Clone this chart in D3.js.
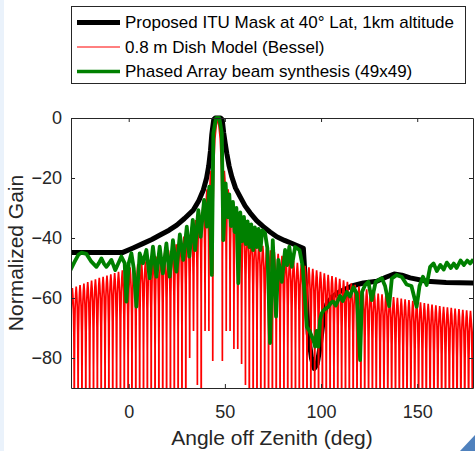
<!DOCTYPE html>
<html lang="en">
<head>
<meta charset="UTF-8">
<title>Normalized Gain vs Angle off Zenith</title>
<script src="https://d3js.org/d3.v7.min.js"></script>
<style>
    body { margin: 0; background: #fff; }
    svg { display: block; font-family: "Liberation Sans", Arial, Helvetica, sans-serif; }
    .axis text { fill: #262626; font-size: 18px; font-family: "Liberation Sans", Arial, Helvetica, sans-serif; }
    .axis path, .axis line { stroke: #262626; }
</style>
</head>
<body>
<div id="chart"></div>
<script>
    // tick values
    var xTicks = [0, 50, 100, 150];
    var yTicks = [-80, -60, -40, -20, 0];

    var legendLabels = [
        "Proposed ITU Mask at 40\u00B0 Lat, 1km altitude",
        "0.8 m Dish Model (Bessel)",
        "Phased Array beam synthesis (49x49)"
    ];

    // ITU mask, [deg, dB]
    var maskPoints = [[-30,-44.8],[-3,-44.8],[2,-43.4],[7.6,-41.8],[12,-40.5],[16.3,-39],[21,-37.4],[25,-35.7],
        [29,-33.5],[33.6,-30.7],[36.5,-27.5],[38.8,-24],[40.5,-20],[41.6,-16],[42.5,-11],[43.2,-5.5],[44.2,-0.5],
        [45,0],[47.8,0],[48.6,-0.5],[49.4,-5],[50.2,-8.5],[51,-11.8],[52.2,-16],[53.6,-19.6],[55.5,-23.3],
        [57.9,-26.2],[60.5,-29.3],[63.1,-31.6],[66.5,-34.2],[70,-36.2],[73.5,-38],[77,-39.6],[81,-40.8],
        [85.6,-42],[90.8,-43.4],[91.6,-52],[93.3,-71.7],[95,-80],[96.5,-83.5],[98,-82],[99.5,-76.2],[101.2,-67],
        [103,-62],[106,-59.5],[110,-57.8],[116,-56],[122,-55],[129,-54.4],[134,-53],[138,-52],[142,-52.4],
        [146.3,-53.3],[155,-54.4],[165,-54.8],[180,-55]];

    // dish model: null positions (deg) and the peak of each lobe between them (dB)
    var redNullDeg = [-30.3,-28.3,-26.3,-24.3,-22.3,-20.3,-18.3,-16.3,-14.3,-12.3,-10.3,-8.3,-6.3,-4.3,-2.3,-0.3,
        1.7,3.7,5.7,7.7,9.7,11.7,13.7,15.7,17.7,19.7,21.7,23.7,25.7,27.7,29.7,31.7,33.7,35.7,37.7,39.7,41.7,43.7,
        48.7,50.7,52.7,54.7,56.7,58.7,60.7,62.7,64.7,66.7,68.7,70.7,72.7,74.7,76.7,78.7,80.7,82.7,84.7,86.7,88.7,
        90.7,92.7,94.7,96.7,98.7,100.7,102.7,104.7,106.7,108.7,110.7,112.7,114.7,116.7,118.7,120.7,122.7,124.7,
        126.7,128.7,130.7,132.7,134.7,136.7,138.7,140.7,142.7,144.7,146.7,148.7,150.7,152.7,154.7,156.7,158.7,
        160.7,162.7,164.7,166.7,168.7,170.7,172.7,174.7,176.7,178.7,180.7];
    var redPeakDb = [-56.7,-56.2,-55.7,-55.2,-54.7,-54.2,-53.8,-53.3,-52.9,-52.5,-52.1,-51.7,-51.3,-50.8,-50.3,
        -49.8,-49.3,-48.8,-48.3,-47.8,-47.3,-46.8,-46.2,-45.6,-44.9,-44.1,-43.2,-42.1,-40.9,-39.5,-38.0,-36.3,
        -34.0,-31.4,-28.1,-23.8,-17.6,
        0,
        -17.6,-23.8,-28.1,-31.4,-34,-36.3,-38,-39.4,-40.6,-41.7,-42.6,-43.4,-44.1,-44.7,-45.3,-45.9,-46.5,-47.1,
        -47.7,-48.3,-48.8,-49.3,-49.8,-50.3,-50.8,-51.3,-51.8,-52.3,-52.7,-53.1,-53.6,-54.1,-54.6,-55.1,-55.6,
        -56.1,-56.6,-57.1,-57.6,-58.1,-58.5,-58.8,-59.1,-59.4,-59.7,-59.9,-60.2,-60.4,-60.7,-60.9,-61.2,-61.4,
        -61.7,-61.9,-62.2,-62.4,-62.7,-62.9,-63.1,-63.3,-63.5,-63.7,-63.9,-64.1,-64.3,-64.5];
    // nulls that stop inside the axes; all the others run below -90
    var redShallowNulls = [[31.7,-80],[33.7,-71],[35.7,-89],[39.7,-71],[41.7,-71],[43.7,-81],
        [48.7,-81],[50.7,-71],[52.7,-71],[54.7,-77],[56.7,-77],[58.7,-82],[60.7,-89]];
    // shape of one lobe: fraction across the lobe, dB below its peak
    var lobeShape = [[0.03,-30],[0.1,-16],[0.22,-7],[0.36,-2.5],[0.5,0],[0.64,-2.5],[0.78,-7],[0.9,-16],[0.97,-30]];

    // phased array, [deg, dB]
    var arrayPoints = [[-30.7,-51.2],[-28.1,-47.9],[-26.2,-45.6],[-24.6,-44.9],[-22,-45.3],[-19.4,-47.9],
        [-16.8,-49.6],[-15.5,-48.4],[-14.2,-46.8],[-12.8,-48.6],[-11.6,-49.6],[-10.3,-48.5],[-9,-47.3],[-7,-50.7],
        [-5.5,-48.6],[-3.8,-46.2],[-2.1,-48.4],[-1.2,-61.2],[0,-48.4],[1.4,-45.1],[2.6,-50],[4,-62.9],[5.7,-45.1],
        [7.4,-48.4],[9.2,-44],[10.9,-53.4],[12.6,-42.9],[14.4,-52.9],[16.1,-42.9],[17.8,-51.8],[19.6,-41.8],
        [21.3,-52.9],[23,-40.7],[24.8,-51.2],[26.6,-38.8],[28.4,-47.3],[30.2,-36.2],[31.5,-46.2],[33.3,-34],
        [34.5,-44],[36.2,-30.7],[37.4,-39.6],[39.2,-27.3],[40.6,-36.2],[41.9,-22.9],[43.2,-52.3],[44,-5.1],
        [45.4,0],[47.1,0],[48.4,-5.1],[49.2,-40.7],[50.4,-21.8],[51.3,-33],[52.3,-25.5],[53.2,-36],[54.2,-28],
        [55.1,-38],[56,-30],[57,-55.1],[58,-31.5],[59,-41],[59.9,-33],[60.9,-42],[61.8,-34.5],[62.8,-43],
        [63.7,-35.5],[64.7,-44],[65.6,-36.5],[66.6,-43],[67.5,-37],[68.5,-44],[69.4,-37.5],
        [70.9,-38.4],[72.1,-43.4],[73.5,-75],[74.9,-40.7],[76.6,-66.2],[77.8,-47.3],[79.6,-54.6],[81.3,-44],
        [82.4,-49],[83.5,-42.9],[84.8,-49.6],[86.5,-43],[88.8,-44],[90.5,-49.6],[91.7,-60.7],[92.6,-69.6],
        [94,-71],[96,-74],[96.9,-76.2],[97.7,-71],[98.6,-76.2],[99.5,-67.3],[100.3,-65.1],[101.5,-64],
        [103.8,-62.9],[105.3,-61.5],[106.4,-61.2],[107.6,-62.5],[109.9,-59.3],[111.3,-61],[113.4,-58],
        [115,-59.5],[116.8,-56.4],[118.6,-58.5],[120.3,-80.7],[121.3,-58],[122.9,-55.7],[124.6,-54.6],
        [126.4,-60.7],[128.4,-54.6],[131.6,-53.4],[133.3,-56],[135.4,-62.7],[136.8,-53.5],[139.4,-52.3],
        [142,-53],[144.5,-55.5],[147,-56],[149.7,-62.9],[151.2,-56],[153,-52.9],[154.9,-55.7],[156.7,-49.6],
        [158.5,-48.5],[160.2,-51],[162,-49],[163.8,-50.5],[165.4,-48.2],[167.5,-50],[169,-48.5],[170.5,-50],
        [172.5,-47.5],[174.3,-49],[176,-47.5],[177.5,-48.5],[179.2,-47.1]];

    var width = 475, height = 451;
    var plot = { left: 71, right: 473, top: 118, bottom: 388 };

    var svg = d3.select("#chart")
        .append("svg")
        .attr("width", width)
        .attr("height", height);

    // screenshot leftovers: pale strip on the left, blue corner
    svg.append("rect").attr("x", 0).attr("y", 0).attr("width", 4).attr("height", height).attr("fill", "#eaf2fb");
    svg.append("path").attr("d", "M460,451L475,435L475,451Z").attr("fill", "#4f81bd");

    var x = d3.scaleLinear().domain([-30, 179]).range([plot.left, plot.right]);
    var y = d3.scaleLinear().domain([-90, 0]).range([plot.bottom, plot.top]);

    svg.append("clipPath").attr("id", "clip")
        .append("rect")
        .attr("x", plot.left)
        .attr("y", plot.top - 4)
        .attr("width", plot.right - plot.left)
        .attr("height", plot.bottom - plot.top + 4);

    var line = d3.line()
        .x(d => x(d[0]))
        .y(d => y(d[1]));

    // build the dish pattern lobe by lobe
    function nullDepth(deg) {
        var s = redShallowNulls.find(n => Math.abs(n[0] - deg) < 0.01);
        return s ? s[1] : -140;
    }
    var redPoints = [];
    for (var i = 0; i < redPeakDb.length; i++) {
        var a = redNullDeg[i], b = redNullDeg[i + 1], pk = redPeakDb[i];
        if (i === 0) redPoints.push([a, nullDepth(a)]);
        lobeShape.forEach(function (s) {
            redPoints.push([a + s[0] * (b - a), pk + s[1]]);
        });
        redPoints.push([b, nullDepth(b)]);
    }

    var data = svg.append("g").attr("clip-path", "url(#clip)");

    data.append("path")
        .datum(maskPoints)
        .attr("fill", "none")
        .attr("stroke", "#000")
        .attr("stroke-width", 5)
        .attr("stroke-linejoin", "round")
        .attr("d", line);

    data.append("path")
        .datum(redPoints)
        .attr("fill", "none")
        .attr("stroke", "#ff0000")
        .attr("stroke-width", 1.7)
        .attr("d", line);

    data.append("path")
        .datum(arrayPoints)
        .attr("fill", "none")
        .attr("stroke", "#008000")
        .attr("stroke-width", 3.8)
        .attr("stroke-linejoin", "round")
        .attr("d", line);

    // axes box with inward ticks
    svg.append("g")
        .attr("class", "axis")
        .attr("transform", "translate(0," + plot.bottom + ")")
        .call(d3.axisBottom(x).tickValues(xTicks).tickSize(-4).tickSizeOuter(0).tickPadding(17));
    svg.append("g")
        .attr("class", "axis")
        .attr("transform", "translate(0," + plot.top + ")")
        .call(d3.axisTop(x).tickValues(xTicks).tickSize(-4).tickSizeOuter(0).tickFormat(""));
    svg.append("g")
        .attr("class", "axis")
        .attr("transform", "translate(" + plot.left + ",0)")
        .call(d3.axisLeft(y).tickValues(yTicks).tickSize(-4).tickSizeOuter(0).tickPadding(9));
    svg.append("g")
        .attr("class", "axis")
        .attr("transform", "translate(" + plot.right + ",0)")
        .call(d3.axisRight(y).tickValues(yTicks).tickSize(-4).tickSizeOuter(0).tickFormat(""));

    svg.append("text")
        .attr("x", (plot.left + plot.right) / 2)
        .attr("y", 445)
        .attr("text-anchor", "middle")
        .attr("fill", "#262626")
        .style("font-size", "21px")
        .text("Angle off Zenith (deg)");

    svg.append("text")
        .attr("transform", "translate(23," + (plot.top + plot.bottom) / 2 + ") rotate(-90)")
        .attr("text-anchor", "middle")
        .attr("fill", "#262626")
        .style("font-size", "21px")
        .text("Normalized Gain");

    // legend
    var legendColors = ["#000", "#ff0000", "#008000"];
    var legendWidths = [5, 1, 3.5];
    var legend = svg.append("g");
    legend.append("rect")
        .attr("x", 71.5).attr("y", 6.5)
        .attr("width", 394).attr("height", 77)
        .attr("fill", "#fff")
        .attr("stroke", "#262626");
    legendLabels.forEach(function (label, k) {
        var ly = 22.5 + k * 24.5;
        legend.append("line")
            .attr("x1", 77).attr("x2", 120)
            .attr("y1", ly).attr("y2", ly)
            .attr("stroke", legendColors[k])
            .attr("stroke-width", legendWidths[k]);
        legend.append("text")
            .attr("x", 125).attr("y", ly)
            .attr("dy", "0.35em")
            .attr("fill", "#000")
            .style("font-size", "17px")
            .text(label);
    });
</script>
</body>
</html>
